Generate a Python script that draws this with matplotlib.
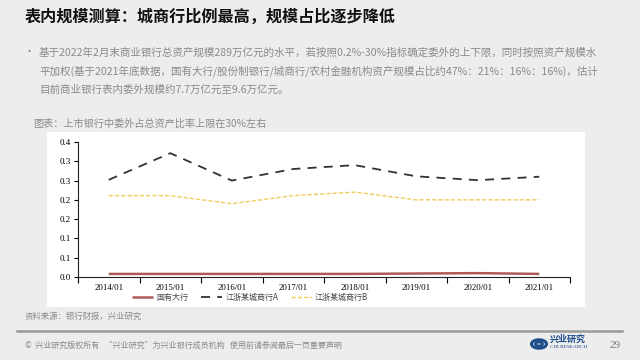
import numpy as np
import matplotlib.pyplot as plt
from matplotlib.patches import Rectangle, Circle

# ---------------------------------------------------------------------------
# Data
# ---------------------------------------------------------------------------
periods = ["2014/01", "2015/01", "2016/01", "2017/01",
           "2018/01", "2019/01", "2020/01", "2021/01"]
state_banks = [0.008, 0.008, 0.008, 0.008, 0.008, 0.009, 0.010, 0.008]
city_bank_a = [0.252, 0.321, 0.250, 0.280, 0.290, 0.261, 0.251, 0.260]
city_bank_b = [0.211, 0.211, 0.190, 0.211, 0.220, 0.200, 0.200, 0.200]
series_names = ["国有大行", "江浙某城商行A", "江浙某城商行B"]
y_ticks = [0.0, 0.05, 0.10, 0.15, 0.20, 0.25, 0.30, 0.35]
y_tick_labels = ["0.0", "0.1", "0.1", "0.2", "0.2", "0.3", "0.3", "0.4"]

TITLE = "表内规模测算：城商行比例最高，规模占比逐步降低"
BULLET = [
    "基于2022年2月末商业银行总资产规模289万亿元的水平，若按照0.2%-30%指标确定委外的上下限，同时按照资产规模水",
    "平加权(基于2021年底数据，国有大行/股份制银行/城商行/农村金融机构资产规模占比约47%：21%：16%：16%)，估计",
    "目前商业银行表内委外规模约7.7万亿元至9.6万亿元。",
]
CAPTION = "图表：上市银行中委外占总资产比率上限在30%左右"
SOURCE = "资料来源：银行财报，兴业研究"
FOOTER = "©  兴业研究版权所有   “兴业研究”为兴业银行成员机构   使用前请参阅最后一页重要声明"

CJK = ["Noto Sans CJK SC", "DejaVu Sans"]
SERIF = ["Liberation Serif", "DejaVu Serif"]

W, H = 640, 360


def fx(px):
    return px / W


def fy(py):
    return 1 - py / H


def main():
    plt.rcParams["font.family"] = CJK
    fig = plt.figure(figsize=(6.4, 3.6), dpi=100)
    fig.patch.set_facecolor("#EDEDED")

    # white chart card, kept behind the axes
    fig.patches.append(Rectangle((fx(47), fy(307)), fx(538), 175 / H,
                                 transform=fig.transFigure, facecolor="white",
                                 edgecolor="none", zorder=-5))

    # title + bullet text
    fig.text(fx(25), fy(17), TITLE, fontsize=11.6, fontweight="bold",
             color="#111111", va="center", ha="left")
    fig.text(fx(24), fy(52), "•", fontsize=8, color="#8A8A8A", va="center")
    for i, line in enumerate(BULLET):
        fig.text(fx(39), fy(52 + i * 19), line, fontsize=7.6, color="#8A8A8A",
                 va="center", ha="left")
    fig.text(fx(33), fy(124), CAPTION, fontsize=7.3, color="#8A8A8A",
             va="center", ha="left")

    # chart
    ax = fig.add_axes([fx(78), fy(277), fx(492), 135 / H])
    ax.set_zorder(5)
    ax.set_facecolor("none")
    x = np.arange(len(periods))
    ax.plot(x, state_banks, color="#B05A56", linewidth=1.8,
            label=series_names[0], solid_capstyle="butt")
    ax.plot(x, city_bank_a, color="#333333", linewidth=1.3,
            dashes=(5, 4), label=series_names[1])
    ax.plot(x, city_bank_b, color="#F0CC5A", linewidth=1.0,
            dashes=(3, 1.5), label=series_names[2])

    ax.set_xlim(-0.5, len(periods) - 0.5)
    ax.set_ylim(0, 0.35)
    ax.set_yticks(y_ticks)
    ax.set_yticklabels(y_tick_labels, family=SERIF, fontsize=6.5)
    ax.set_xticks(x)
    ax.set_xticklabels(periods, family=SERIF, fontsize=6.3)
    ax.set_xticks(np.arange(len(periods) + 1) - 0.5, minor=True)
    ax.tick_params(axis="x", which="major", length=0, pad=5)
    ax.tick_params(axis="x", which="minor", length=4, width=0.8, direction="out")
    ax.tick_params(axis="y", length=3, width=0.8, pad=2)
    for s in ("top", "right"):
        ax.spines[s].set_visible(False)
    for s in ("left", "bottom"):
        ax.spines[s].set_color("#222222")
        ax.spines[s].set_linewidth(0.8)

    ax.legend(loc="center", bbox_to_anchor=(0.35, -0.148), ncol=3,
              frameon=False, fontsize=5.8, handlelength=2.6,
              columnspacing=1.6, handletextpad=0.4, labelcolor="#444444")

    # source, divider, footer
    fig.text(fx(25), fy(316), SOURCE, fontsize=6, color="#8A8A8A",
             va="center", ha="left")
    fig.add_artist(plt.Line2D([fx(17), fx(622)], [fy(331), fy(331)],
                              transform=fig.transFigure, color="#9A9A9A",
                              linewidth=1.8))
    fig.text(fx(25), fy(345), FOOTER, fontsize=5.8, color="#8A8A8A",
             va="center", ha="left")

    # logo
    for r, lw in ((7.5, 2.2), (3.5, 2.0)):
        fig.add_artist(Circle((fx(539), fy(344)), r / W, transform=fig.transFigure,
                              facecolor="none", edgecolor="#1F4E8C", linewidth=lw))
    fig.text(fx(550), fy(339), "兴业研究", fontsize=6.5, color="#1F4E8C",
             va="center", ha="left", fontweight="bold")
    fig.text(fx(550), fy(347), "CIB RESEARCH", fontsize=3.8, color="#1F4E8C",
             va="center", ha="left", family=SERIF)
    fig.text(fx(610), fy(345), "29", fontsize=8, color="#777777",
             va="center", ha="left", family=SERIF)

    fig.savefig("out.png", dpi=100, facecolor=fig.get_facecolor())


if __name__ == "__main__":
    main()
